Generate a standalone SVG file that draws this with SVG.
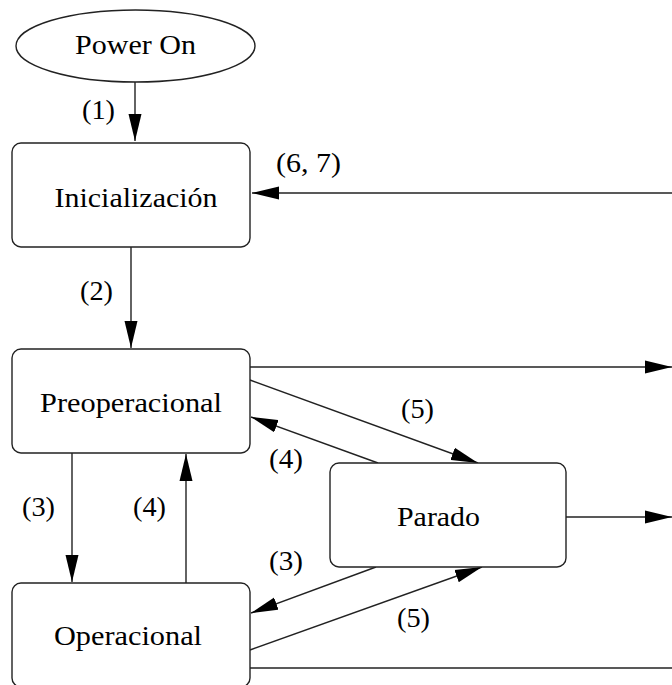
<svg xmlns="http://www.w3.org/2000/svg" width="672" height="685" viewBox="0 0 672 685">
<style>
.node{fill:#fff;stroke:#222;stroke-width:1.4}
.lbl{font-family:"Liberation Serif","Times New Roman",serif;font-size:28px;fill:#000}
.edge{stroke:#222;stroke-width:1.4;fill:none}
</style>
<defs>
<marker id="ah" markerUnits="userSpaceOnUse" markerWidth="28" markerHeight="14" refX="27" refY="7" orient="auto">
<path d="M0,0.5 L27,7 L0,13.5 z" fill="#000"/>
</marker>
</defs>
<rect width="672" height="685" fill="#fff"/>
<g id="connectors">
<line class="edge" x1="135" y1="82" x2="135" y2="141" marker-end="url(#ah)"/>
<text class="lbl" x="82" y="119" textLength="33" lengthAdjust="spacingAndGlyphs">(1)</text>
<line class="edge" x1="672" y1="193" x2="252" y2="193" marker-end="url(#ah)"/>
<text class="lbl" x="276" y="172" textLength="65" lengthAdjust="spacingAndGlyphs">(6, 7)</text>
<line class="edge" x1="131" y1="247" x2="131" y2="348" marker-end="url(#ah)"/>
<text class="lbl" x="80" y="300" textLength="33" lengthAdjust="spacingAndGlyphs">(2)</text>
<line class="edge" x1="250" y1="367" x2="672" y2="367" marker-end="url(#ah)"/>
<line class="edge" x1="72" y1="453" x2="72" y2="582" marker-end="url(#ah)"/>
<text class="lbl" x="22" y="516" textLength="33" lengthAdjust="spacingAndGlyphs">(3)</text>
<line class="edge" x1="186" y1="583" x2="186" y2="454" marker-end="url(#ah)"/>
<text class="lbl" x="133" y="516" textLength="33" lengthAdjust="spacingAndGlyphs">(4)</text>
<line class="edge" x1="250" y1="380" x2="478" y2="463" marker-end="url(#ah)"/>
<text class="lbl" x="401" y="418" textLength="33" lengthAdjust="spacingAndGlyphs">(5)</text>
<line class="edge" x1="378" y1="463" x2="251" y2="417" marker-end="url(#ah)"/>
<text class="lbl" x="269" y="468" textLength="34" lengthAdjust="spacingAndGlyphs">(4)</text>
<line class="edge" x1="376" y1="567" x2="251" y2="613" marker-end="url(#ah)"/>
<text class="lbl" x="269" y="570" textLength="34" lengthAdjust="spacingAndGlyphs">(3)</text>
<line class="edge" x1="250" y1="650" x2="482" y2="567" marker-end="url(#ah)"/>
<text class="lbl" x="397" y="627" textLength="33" lengthAdjust="spacingAndGlyphs">(5)</text>
<line class="edge" x1="566" y1="517" x2="672" y2="517" marker-end="url(#ah)"/>
<line class="edge" x1="250" y1="668" x2="672" y2="668"/>
</g>
<g id="power-on">
<ellipse class="node" cx="135.5" cy="46" rx="119.5" ry="36"/>
<text class="lbl" x="135.5" y="54" text-anchor="middle" textLength="121" lengthAdjust="spacingAndGlyphs">Power On</text>
</g>
<g id="inicializacion">
<rect class="node" x="12" y="143" width="238" height="104" rx="9"/>
<text class="lbl" x="136" y="207" text-anchor="middle" textLength="163" lengthAdjust="spacingAndGlyphs">Inicialización</text>
</g>
<g id="preoperacional">
<rect class="node" x="12" y="349" width="238" height="104" rx="9"/>
<text class="lbl" x="131" y="412" text-anchor="middle" textLength="182" lengthAdjust="spacingAndGlyphs">Preoperacional</text>
</g>
<g id="operacional">
<rect class="node" x="12" y="583" width="238" height="104" rx="9"/>
<text class="lbl" x="128" y="645" text-anchor="middle" textLength="148" lengthAdjust="spacingAndGlyphs">Operacional</text>
</g>
<g id="parado">
<rect class="node" x="330" y="463" width="236" height="104" rx="9"/>
<text class="lbl" x="438.5" y="526" text-anchor="middle" textLength="83" lengthAdjust="spacingAndGlyphs">Parado</text>
</g>
</svg>
